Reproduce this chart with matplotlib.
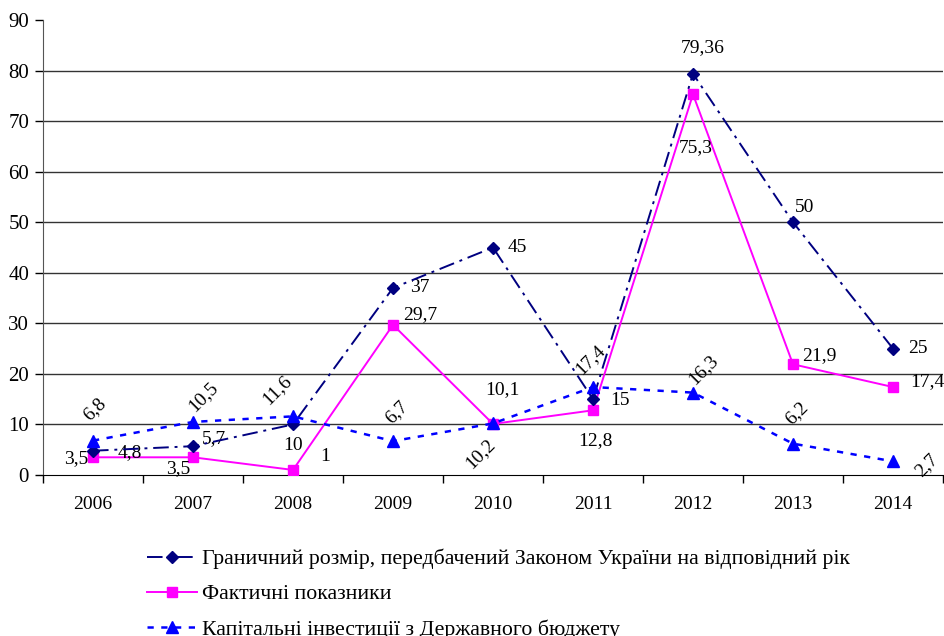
"""Граничний розмір / фактичні показники / капітальні інвестиції, 2006-2014."""
import matplotlib.pyplot as plt
import numpy as np

plt.rcParams["font.family"] = ["Liberation Serif", "DejaVu Serif"]

# ---- дані ----------------------------------------------------------------
years = ["2006", "2007", "2008", "2009", "2010", "2011", "2012", "2013", "2014"]
limit_vals = [4.8, 5.7, 10, 37, 45, 15, 79.36, 50, 25]
actual_vals = [3.5, 3.5, 1, 29.7, 10.1, 12.8, 75.3, 21.9, 17.4]
invest_vals = [6.8, 10.5, 11.6, 6.7, 10.2, 17.4, 16.3, 6.2, 2.7]

limit_name = "Граничний розмір, передбачений Законом України на відповідний рік"
actual_name = "Фактичні показники"
invest_name = "Капітальні інвестиції з Державного бюджету"

# зсуви підписів (пікселі) — як у вихідному рисунку
limit_offsets = [(25, -2), (9, 8), (0, -21), (17, 0), (15, 0), (17, -1),
                 (10, 26), (2, 15), (15, 0)]
limit_ha = ["left", "left", "center", "left", "left", "left", "center", "left", "left"]
actual_offsets = [(-5, -1), (-3, -11), (32, 13), (10, 10), (9, 34), (2, -30),
                  (3, -53), (9, 9), (17, 5)]
actual_ha = ["right", "right", "center", "left", "center", "center", "center", "left", "left"]
invest_offsets = [(2, 31), (10, 25), (-16, 26), (4, 29), (-13, -30), (-3, 27),
                  (10, 23), (4, 31), (34, -4)]


def fmt(v):
    s = f"{v:g}"
    return s.replace(".", ",")


fig = plt.figure(figsize=(9.45, 6.36), dpi=100)
ax = fig.add_axes([43 / 945, 1 - 475 / 636, 900 / 945, 455 / 636])

x = np.arange(len(years))

l1, = ax.plot(x, limit_vals, color="#000080", linestyle=(0, (8, 3, 1.5, 3)),
              linewidth=1.4, marker="D", markersize=6, label=limit_name, zorder=4)
l2, = ax.plot(x, actual_vals, color="#FF00FF", linestyle="-", linewidth=1.4,
              marker="s", markersize=7, label=actual_name, zorder=3)
l3, = ax.plot(x, invest_vals, color="#0000FF", linestyle=(0, (2.5, 3)),
              linewidth=1.8, marker="^", markersize=8, label=invest_name, zorder=5)

fs = 14
for xi, v, off, ha in zip(x, limit_vals, limit_offsets, limit_ha):
    ax.annotate(fmt(v), xy=(xi, v), xytext=off, textcoords="offset pixels",
                ha=ha, va="center", fontsize=fs)
for xi, v, off, ha in zip(x, actual_vals, actual_offsets, actual_ha):
    ax.annotate(fmt(v), xy=(xi, v), xytext=off, textcoords="offset pixels",
                ha=ha, va="center", fontsize=fs)
for xi, v, off in zip(x, invest_vals, invest_offsets):
    ax.annotate(fmt(v), xy=(xi, v), xytext=off, textcoords="offset pixels",
                ha="center", va="center", fontsize=fs, rotation=45,
                rotation_mode="anchor")

ax.set_xlim(-0.5, len(years) - 0.5)
ax.set_ylim(0, 90)
ax.set_yticks(np.arange(0, 91, 10))
ax.set_xticks(x)
ax.set_xticklabels(years)
ax.set_xticks(np.arange(-0.5, len(years), 1), minor=True)
ax.tick_params(axis="x", which="major", length=0, pad=15, labelsize=fs)
ax.tick_params(axis="x", which="minor", length=6, width=1, direction="out")
ax.tick_params(axis="y", length=6, width=1, direction="out", pad=4, labelsize=fs + 1)

for yv in range(10, 90, 10):
    ax.axhline(yv, color="#333333", linewidth=1, zorder=1)

for side in ("top", "right"):
    ax.spines[side].set_visible(False)
ax.spines["left"].set_color("#555555")
ax.spines["bottom"].set_color("black")

fig.legend(handles=[l1, l2, l3], loc="upper left", bbox_to_anchor=(138 / 945, 1 - 540 / 636),
           frameon=False, fontsize=15.7, handlelength=2.3, handletextpad=0.25,
           labelspacing=0.68, borderaxespad=0)

fig.savefig("out.png", dpi=100)
